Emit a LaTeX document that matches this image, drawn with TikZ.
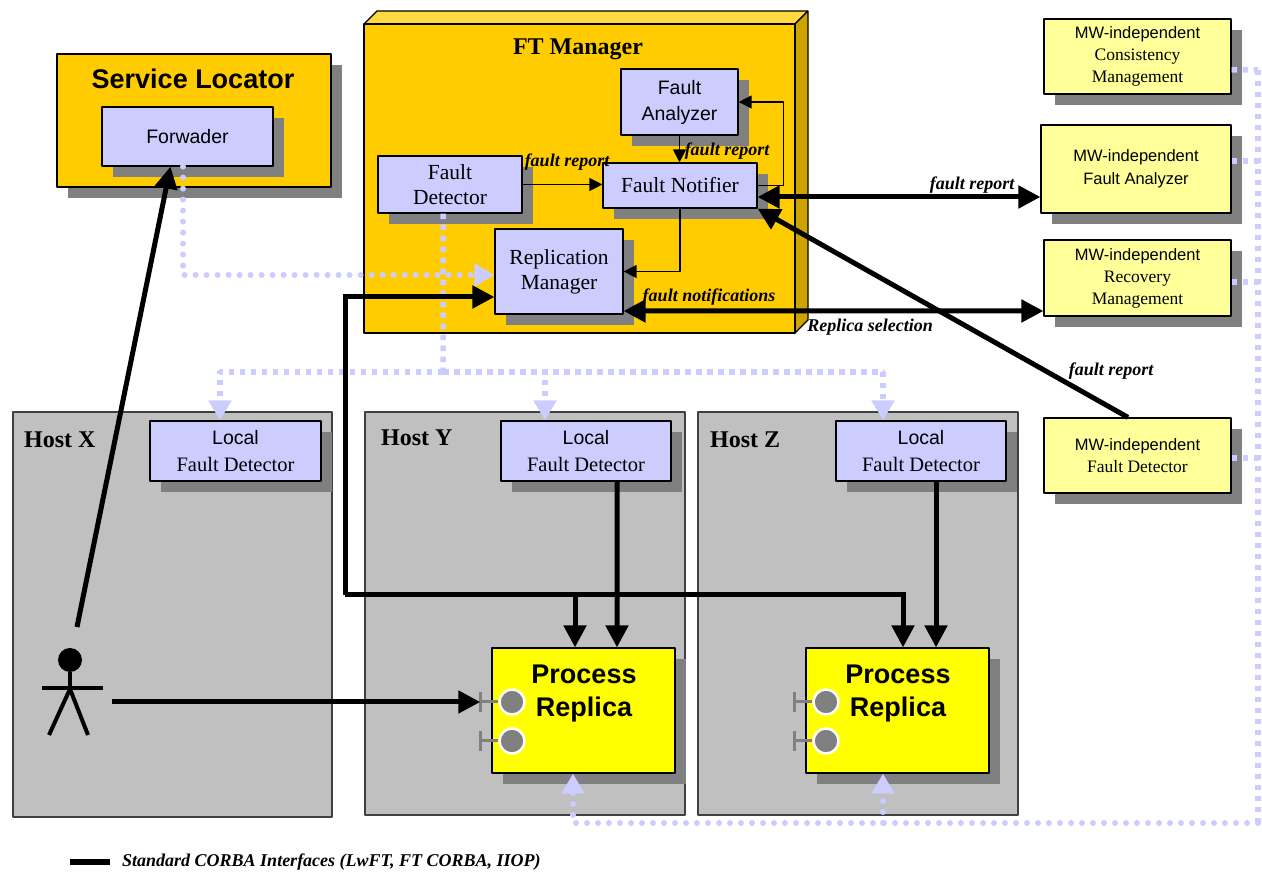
\documentclass[tikz,border=0pt]{standalone}
\usepackage{fontspec}
\setmainfont{Liberation Serif}
\setsansfont{Liberation Sans}
\usetikzlibrary{arrows.meta,shadows}
\definecolor{ftorange}{HTML}{FFCC00}
\definecolor{fttop}{HTML}{FFD940}
\definecolor{ftside}{HTML}{CCA300}
\definecolor{boxblue}{HTML}{CCCCFF}
\definecolor{mwyellow}{HTML}{FFFF99}
\definecolor{replyellow}{HTML}{FFFF00}
\definecolor{hostgray}{HTML}{C0C0C0}
\definecolor{shadowgray}{HTML}{808080}
\definecolor{dotblue}{HTML}{CCCCFF}
\begin{document}
\begin{tikzpicture}[>={Triangle[length=13bp,width=13bp]},line join=bevel,
  bigtip/.tip={Triangle[length=22bp,width=22bp]},
  lavtip/.tip={Triangle[length=20bp,width=22bp]},
  shadowed/.style={drop shadow={shadow xshift=11bp,shadow yshift=-11bp,fill=shadowgray,opacity=1}},
  hostbox/.style={draw=black!75,line width=1.2bp,fill=hostgray,inner sep=0pt,minimum width=320bp,minimum height=403bp},
  hostname/.style={anchor=west,inner sep=0pt,font=\fontsize{24bp}{28bp}\selectfont\bfseries},
  compbox/.style={draw,line width=1.2bp,fill=boxblue,shadowed,inner sep=0pt,align=center},
  sanstext/.style={font=\fontsize{19.5bp}{26bp}\selectfont\sffamily},
  seriftext/.style={font=\fontsize{21.5bp}{25bp}\selectfont},
  mwbox/.style={draw,line width=1.2bp,fill=mwyellow,shadowed,inner sep=0pt,align=center,minimum width=187bp,minimum height=75bp,font=\fontsize{17.5bp}{22bp}\selectfont},
  replbox/.style={draw,line width=1.2bp,fill=replyellow,shadowed,inner sep=0pt,minimum width=183bp,minimum height=125bp},
  repltext/.style={align=center,inner sep=0pt,font=\fontsize{27bp}{33bp}\selectfont\sffamily\bfseries},
  port/.style={circle,fill=shadowgray,draw=white,line width=2.5bp,minimum size=25bp,inner sep=0pt},
  stub/.style={draw=shadowgray,line width=3bp},
  arrowlabel/.style={inner sep=0pt,font=\fontsize{18bp}{21bp}\selectfont\bfseries\itshape},
  flow/.style={line width=1.3bp,->},
  corba/.style={line width=5bp,line join=miter},
  sqdot/.style={draw=dotblue,line width=5.5bp,dash pattern=on 5.5bp off 5.5bp},
  rddot/.style={draw=dotblue,line width=6bp,line cap=round,dash pattern=on 0bp off 11bp},
  actor/.style={line width=4bp},
]
%%
\useasboundingbox (0bp,0bp) rectangle (1262bp,875bp);
\node (node_host_x) at (172.5bp,260.5bp) [hostbox,minimum width=319bp,minimum height=405bp] {};
  \node (node_host_y) at (525bp,261.5bp) [hostbox] {};
  \node (node_host_z) at (858bp,261.5bp) [hostbox] {};
  \node (node_host_x_name) at (24bp,435bp) [hostname] {Host X};
  \node (node_host_y_name) at (381bp,437bp) [hostname] {Host Y};
  \node (node_host_z_name) at (710bp,435bp) [hostname] {Host Z};
%
\filldraw [fill=fttop,line width=1.2bp] (364bp,851bp) -- (377bp,864bp) -- (808bp,864bp) -- (795bp,851bp) -- cycle;
  \filldraw [fill=ftside,line width=1.2bp] (795bp,851bp) -- (808bp,864bp) -- (808bp,555bp) -- (795bp,542bp) -- cycle;
  \node (node_ft_manager) at (579.5bp,696.5bp) [draw,line width=1.2bp,fill=ftorange,inner sep=0pt,minimum width=431bp,minimum height=309bp] {};
  \node (node_ft_manager_name) at (578bp,826bp) [inner sep=0pt,font=\fontsize{24bp}{28bp}\selectfont\bfseries] {FT Manager};
  \node (node_fault_analyzer) at (679.5bp,773bp) [compbox,sanstext,minimum width=117bp,minimum height=66bp] {Fault\\Analyzer};
  \node (node_fault_detector) at (450bp,690.5bp) [compbox,seriftext,minimum width=144bp,minimum height=57bp] {Fault\\Detector};
  \node (node_fault_notifier) at (680bp,689.5bp) [compbox,seriftext,minimum width=154bp,minimum height=45bp] {Fault Notifier};
  \node (node_replication_manager) at (559bp,603.5bp) [compbox,seriftext,minimum width=128bp,minimum height=85bp] {Replication\\Manager};
%
\node (node_service_locator) at (194bp,754.5bp) [draw,line width=1.2bp,fill=ftorange,shadowed,inner sep=0pt,minimum width=274bp,minimum height=133bp] {};
  \node (node_service_locator_name) at (193bp,796bp) [inner sep=0pt,font=\fontsize{27bp}{32bp}\selectfont\sffamily\bfseries] {Service Locator};
  \node (node_forwader) at (187.5bp,738.5bp) [compbox,sanstext,minimum width=171bp,minimum height=59bp] {Forwader};
%
\node (node_mw_consistency) at (1137.5bp,818.5bp) [mwbox] {{\sffamily\fontsize{16.5bp}{22bp}\selectfont MW-independent}\\Consistency\\Management};
  \node (node_mw_fault_analyzer) at (1136bp,706bp) [mwbox,minimum width=190bp,minimum height=88bp,font=\fontsize{16.5bp}{23bp}\selectfont\sffamily] {MW-independent\\Fault Analyzer};
  \node (node_mw_recovery) at (1137.5bp,597bp) [mwbox,minimum height=76bp] {{\sffamily\fontsize{16.5bp}{22bp}\selectfont MW-independent}\\Recovery\\Management};
  \node (node_mw_fault_detector) at (1137.5bp,419.5bp) [mwbox] {{\sffamily\fontsize{16.5bp}{23bp}\selectfont MW-independent}\\Fault Detector};
%
\node (node_lfd_x) at (235.5bp,424bp) [compbox,minimum width=171bp,minimum height=60bp,font=\fontsize{20.5bp}{27bp}\selectfont] {{\sffamily\fontsize{19.5bp}{27bp}\selectfont Local}\\Fault Detector};
  \node (node_lfd_y) at (586bp,424bp) [compbox,minimum width=170bp,minimum height=60bp,font=\fontsize{20.5bp}{27bp}\selectfont] {{\sffamily\fontsize{19.5bp}{27bp}\selectfont Local}\\Fault Detector};
  \node (node_lfd_z) at (921bp,424bp) [compbox,minimum width=170bp,minimum height=60bp,font=\fontsize{20.5bp}{27bp}\selectfont] {{\sffamily\fontsize{19.5bp}{27bp}\selectfont Local}\\Fault Detector};
%
\node (node_replica_y) at (583.5bp,164.5bp) [replbox] {};
  \node (node_replica_y_text) at (584bp,181bp) [repltext] {Process\\Replica};
  \node (node_replica_y_port_a) at (512bp,173bp) [port] {};
  \node (node_replica_y_port_b) at (512bp,134bp) [port] {};
  \draw [stub] (node_replica_y_port_a.west) -- ++(-18bp,0) ++(0,-10bp) -- ++(0,20bp);
  \draw [stub] (node_replica_y_port_b.west) -- ++(-18bp,0) ++(0,-10bp) -- ++(0,20bp);
  \node (node_replica_z) at (897.5bp,164.5bp) [replbox] {};
  \node (node_replica_z_text) at (898bp,181bp) [repltext] {Process\\Replica};
  \node (node_replica_z_port_a) at (826bp,173bp) [port] {};
  \node (node_replica_z_port_b) at (826bp,134bp) [port] {};
  \draw [stub] (node_replica_z_port_a.west) -- ++(-18bp,0) ++(0,-10bp) -- ++(0,20bp);
  \draw [stub] (node_replica_z_port_b.west) -- ++(-18bp,0) ++(0,-10bp) -- ++(0,20bp);
%
\node (node_actor_head) at (70bp,215bp) [circle,fill=black,minimum size=24bp,inner sep=0pt] {};
  \draw [actor] (node_actor_head.south) -- (70bp,186bp);
  \draw [actor] (42bp,187bp) -- (103bp,187bp);
  \draw [actor] (49bp,140bp) -- (70bp,186bp) -- (88bp,140bp);
  \coordinate (coord_actor_up) at (77bp,248bp);
  \coordinate (coord_actor_right) at (112bp,173bp);
%
\draw [flow] (node_fault_detector.east) -- (node_fault_detector.east -| node_fault_notifier.west);
  \draw [flow] (node_fault_analyzer.south) -- (node_fault_analyzer.south |- node_fault_notifier.north);
  \draw [flow] (node_fault_notifier.east) -- ++(26bp,0) |- (node_fault_analyzer.east);
  \draw [flow] (node_fault_notifier.south) |- (node_replication_manager.east);
%
\draw [rddot,-lavtip] ([xshift=-4.5bp]node_forwader.south) |- ([yshift=-3.5bp]node_replication_manager.west);
  \coordinate (coord_fd_bus) at (443bp,503bp);
  \draw [sqdot] ([xshift=-7bp]node_fault_detector.south) -- (coord_fd_bus);
  \draw [sqdot,-lavtip] (coord_fd_bus) -| ([xshift=-15.5bp]node_lfd_x.north);
  \draw [sqdot,-lavtip] (coord_fd_bus) -| ([xshift=-41bp]node_lfd_y.north);
  \draw [sqdot,-lavtip] (coord_fd_bus) -| ([xshift=-38bp]node_lfd_z.north);
  \coordinate (coord_mw_bus_top) at (1258bp,805bp);
  \coordinate (coord_mw_bus_bottom) at (1258bp,52bp);
  \coordinate (coord_mw_bus_z) at (883bp,52bp);
  \draw [sqdot] ([yshift=-13.5bp]node_mw_consistency.east) -- (coord_mw_bus_top);
  \draw [sqdot] ([yshift=8bp]node_mw_fault_analyzer.east) -- ++(27bp,0);
  \draw [sqdot] ([yshift=-4bp]node_mw_recovery.east) -- ++(27bp,0);
  \draw [sqdot] ([yshift=-2.5bp]node_mw_fault_detector.east) -- ++(27bp,0);
  \draw [sqdot] (coord_mw_bus_top) -- (coord_mw_bus_bottom);
  \draw [rddot,-lavtip] (coord_mw_bus_bottom) -| ([xshift=-10.5bp]node_replica_y.south);
  \draw [rddot,-lavtip] (coord_mw_bus_z) -- ([xshift=-14.5bp]node_replica_z.south);
%
\draw [corba,-bigtip] (coord_actor_up) -- ([xshift=-17bp]node_forwader.south);
  \draw [corba,-bigtip] (coord_actor_right) -- ([xshift=-18bp]node_replica_y_port_a.west);
  \draw [corba,-bigtip] ([xshift=31bp]node_lfd_y.south) -- ([xshift=33.5bp]node_replica_y.north);
  \draw [corba,-bigtip] ([xshift=15bp]node_lfd_z.south) -- ([xshift=38.5bp]node_replica_z.north);
  \coordinate (coord_rm_bus) at (345bp,280bp);
  \coordinate (coord_rm_bus_y) at (575bp,280bp);
  \draw [corba,-bigtip] (coord_rm_bus) |- ([yshift=-25.5bp]node_replication_manager.west);
  \draw [corba,-bigtip] (coord_rm_bus) -| ([xshift=5.5bp]node_replica_z.north);
  \draw [corba,-bigtip] (coord_rm_bus_y) -- ([xshift=-8.5bp]node_replica_y.north);
  \draw [corba,bigtip-bigtip] ([yshift=-11.5bp]node_fault_notifier.east) -- ([yshift=-28bp]node_mw_fault_analyzer.west);
  \draw [corba,bigtip-bigtip] ([yshift=-39.5bp]node_replication_manager.east) -- ([yshift=-33bp]node_mw_recovery.west);
  \draw [corba,-bigtip] ([xshift=-9.5bp]node_mw_fault_detector.north) -- (node_fault_notifier.south east);
%
\node (node_label_fd_fn) at (567bp,713bp) [arrowlabel] {fault report};
  \node (node_label_fa_fn) at (727bp,724bp) [arrowlabel] {fault report};
  \node (node_label_mw_fa) at (972bp,681bp) [arrowlabel,anchor=south] {fault report};
  \node (node_label_notifications) at (709bp,578bp) [arrowlabel] {fault notifications};
  \node (node_label_selection) at (870bp,548bp) [arrowlabel] {Replica selection};
  \node (node_label_mw_fd) at (1111bp,504bp) [arrowlabel] {fault report};
%
\node (node_legend) at (122bp,13bp) [anchor=west,inner sep=0pt,font=\fontsize{18bp}{21bp}\selectfont\bfseries\itshape] {Standard CORBA Interfaces (LwFT, FT CORBA, IIOP)};
  \draw [line width=6bp] ([xshift=-12bp]node_legend.west) -- ++(-40bp,0);
%
\end{tikzpicture}
\end{document}
